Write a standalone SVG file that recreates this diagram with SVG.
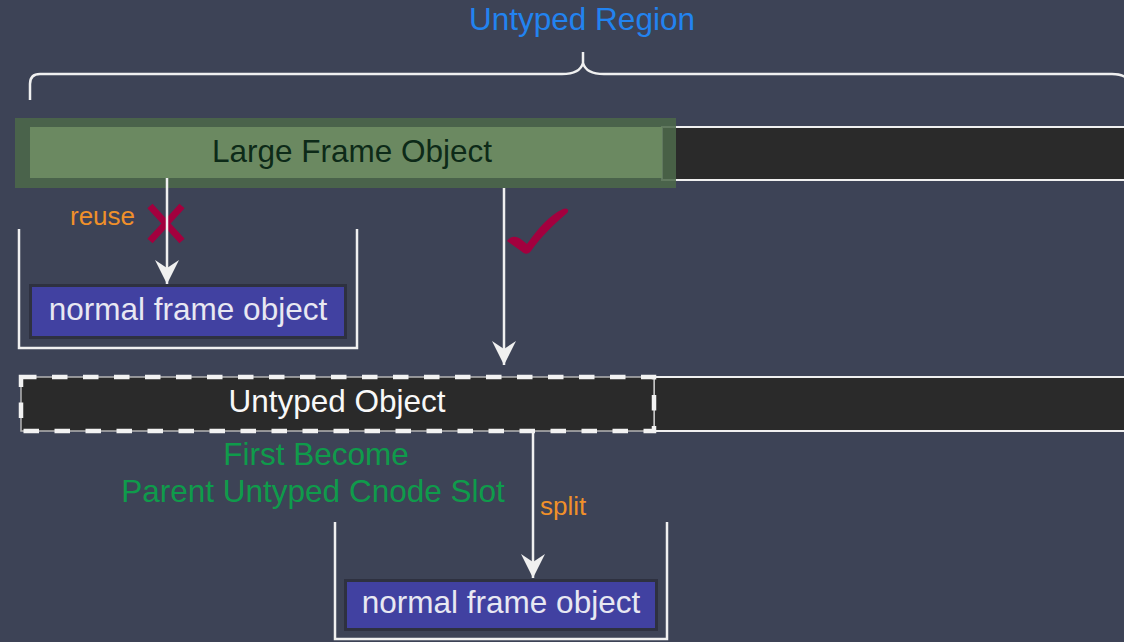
<svg xmlns="http://www.w3.org/2000/svg" width="1124" height="642" viewBox="0 0 1124 642">
  <style>
    .label { font-family: "Liberation Sans", Arial, sans-serif; }
    .big { font-size: 31.5px; }
    .small { font-size: 26px; fill: #f0902a; }
    .line { stroke: #f0f0f0; stroke-width: 2.5; fill: none; }
    .bar { fill: #2a2a2a; stroke: #f0f0f0; stroke-width: 2; }
    .frame-outer { fill: #2e3140; }
    .frame-inner { fill: #4141a1; }
    .frame-text { fill: #e8e8f2; text-anchor: middle; }
  </style>
  <defs>
    <marker id="arrow" viewBox="-26 -13 28 26" refX="0" refY="0" markerWidth="28" markerHeight="26" markerUnits="userSpaceOnUse" orient="auto">
      <path d="M 0 0 L -24 -12 L -16 0 L -24 12 Z" fill="#f0f0f0"/>
    </marker>
  </defs>

  <rect width="1124" height="642" fill="#3d4356"/>

  <!-- brace over the untyped region -->
  <g id="region-brace">
    <path class="line" d="M 30 100 L 30 84 Q 30 74 40 74 L 562 74 Q 580 74 583 63 L 583 52 M 583 63 Q 586 74 604 74 L 1112 74 Q 1124 74 1128 80"/>
    <text class="label" x="582" y="30" font-size="31.5" fill="#2283f0" text-anchor="middle">Untyped Region</text>
  </g>

  <!-- region row 1: large frame object followed by the rest of the region -->
  <g id="large-frame">
    <rect class="bar" x="662" y="127" width="480" height="53"/>
    <rect x="15" y="118" width="661" height="70" fill="#4c684a" opacity="0.88"/>
    <rect x="30" y="127" width="632" height="51" fill="#6b8961"/>
    <text class="label big" x="352" y="162" fill="#0d2a18" text-anchor="middle">Large Frame Object</text>
  </g>

  <!-- reused frame container -->
  <g id="reuse-target">
    <path class="line" d="M 19 229 L 19 348 L 357 348 L 357 229"/>
    <rect class="frame-outer" x="29" y="284" width="318" height="55"/>
    <rect class="frame-inner" x="32" y="287" width="312" height="49"/>
    <text class="label big frame-text" x="188" y="320">normal frame object</text>
  </g>

  <!-- region row 2: untyped object followed by the rest of the region -->
  <g id="untyped-object">
    <rect class="bar" x="654" y="377" width="480" height="54"/>
    <rect x="21" y="377" width="633" height="54" fill="#2a2a2a" stroke="#b4b4b4" stroke-width="1.5"/>
    <rect x="21" y="377" width="633" height="54" fill="none" stroke="#f2f2f2" stroke-width="4.5" stroke-dasharray="15.5 15.5"/>
    <text class="label big" x="337" y="412" fill="#f8f8f8" text-anchor="middle">Untyped Object</text>
    <text class="label big" x="316" y="465" fill="#0f9b4b" text-anchor="middle">First Become</text>
    <text class="label big" x="313" y="502" fill="#0f9b4b" text-anchor="middle">Parent Untyped Cnode Slot</text>
  </g>

  <!-- split frame container -->
  <g id="split-target">
    <path class="line" d="M 335 522 L 335 639 L 667 639 L 667 522"/>
    <rect class="frame-outer" x="344" y="579" width="314" height="52"/>
    <rect class="frame-inner" x="347" y="582" width="308" height="46"/>
    <text class="label big frame-text" x="501" y="613">normal frame object</text>
  </g>

  <!-- marks -->
  <g id="marks">
    <path d="M 150 206 L 182 241 M 182 206 L 150 241" stroke="#a3003e" stroke-width="7" fill="none"/>
    <path d="M 507 241 C 510 236 516 235 522 240 L 527 244 C 538 228 550 215 563 209 C 568 207 570 211 566 214 C 552 226 540 238 531 251 C 528 255 524 254 521 251 Z" fill="#a3003e"/>
  </g>

  <!-- connectors -->
  <g id="connectors">
    <path class="line" d="M 167 178 L 167 284" marker-end="url(#arrow)"/>
    <text class="label small" x="70" y="225">reuse</text>
    <path class="line" d="M 504 188 L 504 365" marker-end="url(#arrow)"/>
    <path class="line" d="M 533 431 L 533 578" marker-end="url(#arrow)"/>
    <text class="label small" x="540" y="515">split</text>
  </g>
</svg>
